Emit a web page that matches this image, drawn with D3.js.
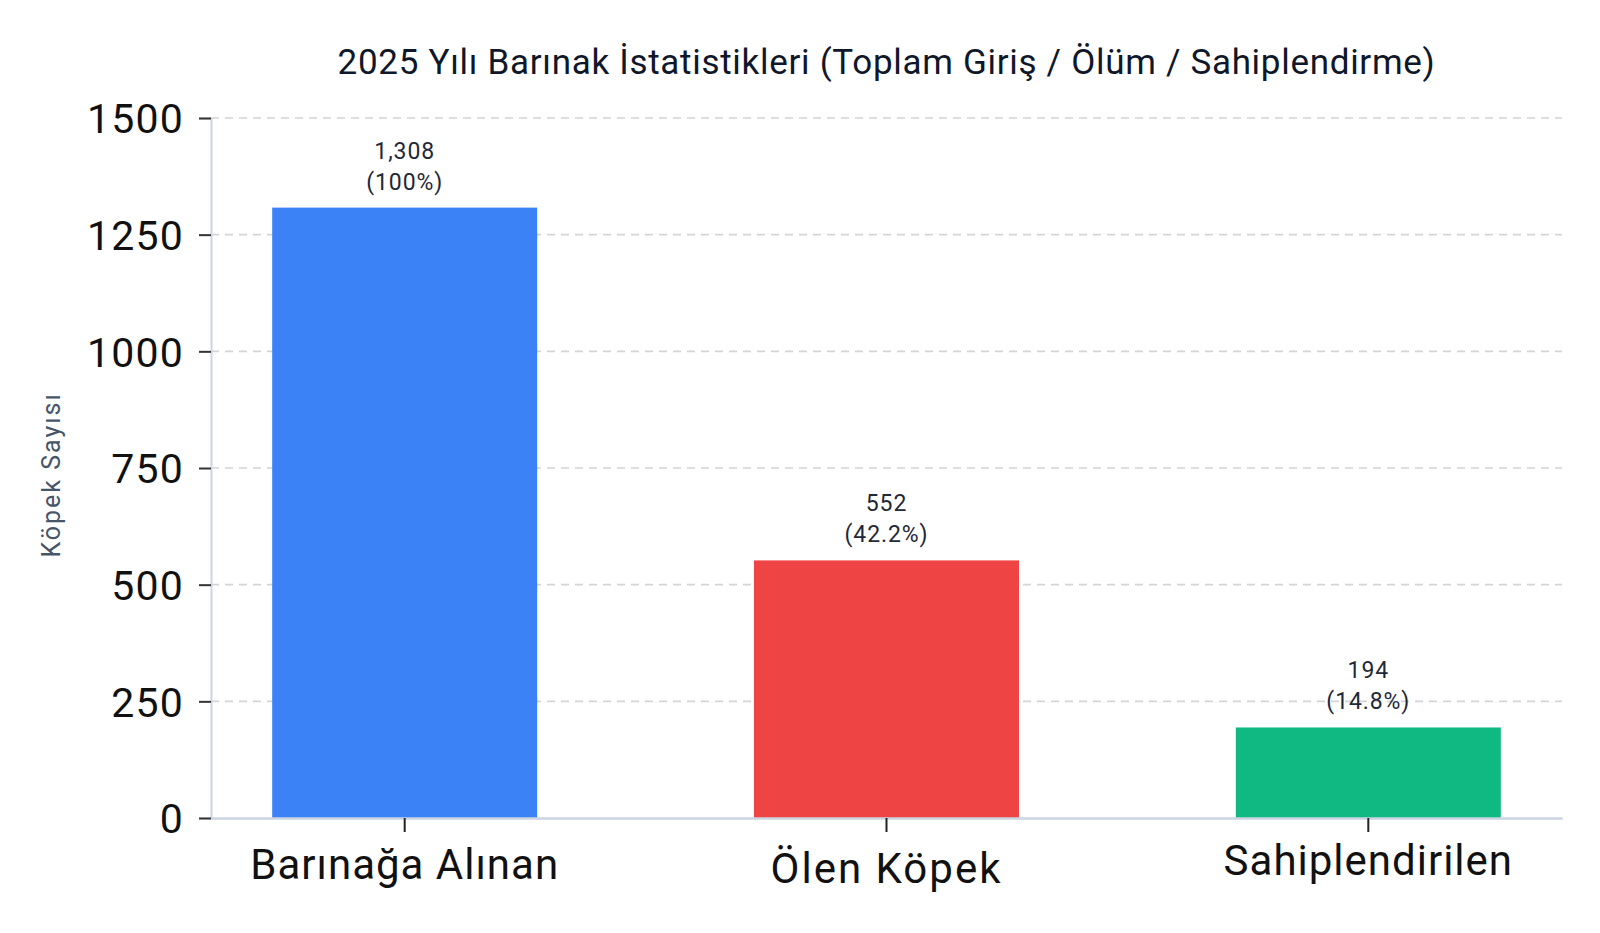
<!DOCTYPE html>
<html>
<head>
<meta charset="utf-8">
<script src="https://cdn.jsdelivr.net/npm/d3@7/dist/d3.min.js"></script>
<style>
  html, body { margin: 0; padding: 0; background: #ffffff; }
  svg { display: block; }
</style>
</head>
<body>
<svg id="chart" width="1600" height="933"></svg>
<script>
// ---- data ----
const categories = ["Barınağa Alınan", "Ölen Köpek", "Sahiplendirilen"];
const values = [1308, 552, 194];
const percents = ["100%", "42.2%", "14.8%"];
const yTicks = [0, 250, 500, 750, 1000, 1250, 1500];
const titleText = "2025 Yılı Barınak İstatistikleri (Toplam Giriş / Ölüm / Sahiplendirme)";
const yLabelText = "Köpek Sayısı";

// ---- styling ----
const barColors = ["#3b82f6", "#ef4444", "#10b981"];
const labelBaselineShift = [0, 4, -4];
const labelSpacing = [1.0, 2.0, 1.0];
const FONT = "Roboto, 'Open Sans', sans-serif";

const svg = d3.select("#chart");
const mLeft = 211, mRight = 1562, mTop = 118, mBottom = 818;

const x = d3.scaleBand().domain(categories).range([mLeft, mRight])
  .paddingInner(0.45).paddingOuter(0.127);
const y = d3.scaleLinear().domain([0, 1500]).range([mBottom, mTop]);

// gridlines
svg.append("g").selectAll("line").data(yTicks.filter(d => d > 0)).join("line")
  .attr("x1", mLeft).attr("x2", mRight)
  .attr("y1", d => y(d)).attr("y2", d => y(d))
  .attr("stroke", "#d4d4d8").attr("stroke-width", 1.6)
  .attr("stroke-dasharray", "8,6");

// bars
svg.append("g").selectAll("rect").data(values).join("rect")
  .attr("x", (d, i) => x(categories[i]))
  .attr("width", x.bandwidth())
  .attr("y", d => y(d))
  .attr("height", d => y(0) - y(d))
  .attr("fill", (d, i) => barColors[i]);

// value labels
const vl = svg.append("g").selectAll("text").data(values).join("text")
  .attr("text-anchor", "middle")
  .attr("font-family", FONT).attr("font-size", 23)
  .attr("letter-spacing", 0.9)
  .attr("fill", "#1f2937");
vl.append("tspan")
  .attr("x", (d, i) => x(categories[i]) + x.bandwidth() / 2)
  .attr("y", d => y(d) - 49)
  .text(d => d3.format(",")(d));
vl.append("tspan")
  .attr("x", (d, i) => x(categories[i]) + x.bandwidth() / 2)
  .attr("y", d => y(d) - 18)
  .text((d, i) => "(" + percents[i] + ")");

// y axis
const yAxis = svg.append("g").attr("transform", `translate(${mLeft},0)`)
  .call(d3.axisLeft(y).tickValues(yTicks).tickSize(12).tickPadding(15).tickFormat(d3.format("d")));
yAxis.select(".domain").attr("stroke", "#cbd5e1").attr("stroke-width", 2);
yAxis.selectAll(".tick line").attr("stroke", "#333").attr("stroke-width", 2);
yAxis.selectAll(".tick text").attr("font-family", FONT).attr("font-size", 41)
  .attr("letter-spacing", 1.2)
  .attr("fill", "#111").attr("dy", "0.36em");

// x axis
const xAxis = svg.append("g").attr("transform", `translate(0,${mBottom})`)
  .call(d3.axisBottom(x).tickSize(14).tickPadding(0).tickSizeOuter(0));
xAxis.select(".domain").attr("stroke", "#cbd5e1").attr("stroke-width", 2.5);
xAxis.selectAll(".tick line").attr("stroke", "#222").attr("stroke-width", 2);
xAxis.selectAll(".tick text").attr("font-family", FONT).attr("font-size", 42)
  .attr("letter-spacing", (d, i) => labelSpacing[i])
  .attr("fill", "#111").attr("dy", null)
  .attr("y", (d, i) => 61 + labelBaselineShift[i]);

// title
svg.append("text").attr("x", (mLeft + mRight) / 2).attr("y", 74)
  .attr("text-anchor", "middle").attr("font-family", FONT).attr("font-size", 35)
  .attr("letter-spacing", 0.7)
  .attr("fill", "#0f172a").text(titleText);

// y label
svg.append("text").attr("transform", `translate(60,475) rotate(-90)`)
  .attr("text-anchor", "middle").attr("font-family", FONT).attr("font-size", 25)
  .attr("letter-spacing", 2)
  .attr("fill", "#475569").text(yLabelText);
</script>
</body>
</html>
